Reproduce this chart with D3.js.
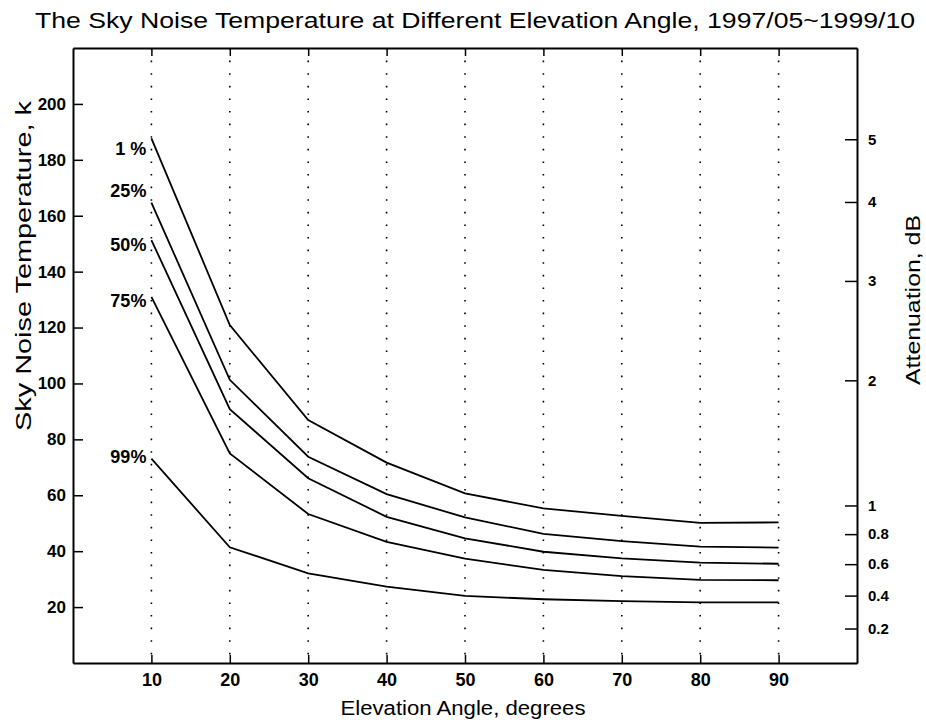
<!DOCTYPE html>
<html>
<head>
<meta charset="utf-8">
<title>Sky Noise Temperature</title>
<script src="https://cdn.jsdelivr.net/npm/d3@7"></script>
<style>
  body { margin: 0; background: #fff; }
  svg, svg text { font-family: "Liberation Sans", Arial, sans-serif; }
  svg { display: block; }
</style>
</head>
<body>
<div id="chart"></div>
<script>
// data
var elevation = [10, 20, 30, 40, 50, 60, 70, 80, 90];
var seriesNames = ["1 %", "25%", "50%", "75%", "99%"];
var temp1 = [187.7, 120.9, 86.9, 71.7, 60.7, 55.3, 52.6, 50.1, 50.3];
var temp25 = [164.7, 101.3, 73.8, 60.4, 52.1, 46.2, 43.6, 41.6, 41.3];
var temp50 = [151.3, 90.8, 66.1, 52.3, 44.6, 39.8, 37.4, 35.9, 35.5];
var temp75 = [131.0, 75.0, 53.3, 43.3, 37.3, 33.3, 31.1, 29.7, 29.6];
var temp99 = [73.1, 41.4, 32.1, 27.3, 24.0, 22.8, 22.1, 21.7, 21.7];
var tempTicks = [20, 40, 60, 80, 100, 120, 140, 160, 180, 200];
var attenTicks = [0.2, 0.4, 0.6, 0.8, 1, 2, 3, 4, 5];
var attenLabels = ["0.2", "0.4", "0.6", "0.8", "1", "2", "3", "4", "5"];
var mediumTemp = 274; // K, for attenuation -> sky noise

var series = [temp1, temp25, temp50, temp75, temp99];
var labelDy = [10, -12, 5, 4, -2];

var width = 926, height = 724;
var plotLeft = 73, plotRight = 857, plotTop = 48, plotBottom = 663;

var svg = d3.select("#chart").append("svg")
    .attr("width", width)
    .attr("height", height);

svg.append("rect").attr("width", width).attr("height", height).attr("fill", "#fff");

var x = d3.scaleLinear().domain([0, 100]).range([plotLeft, plotRight]);
var y = d3.scaleLinear().domain([0, 220]).range([plotBottom, plotTop]);

function attenToTemp(a) {
  return mediumTemp * (1 - Math.pow(10, -a / 10));
}

// dotted verticals
svg.append("g")
  .selectAll("line")
  .data(elevation)
  .enter().append("line")
    .attr("x1", function (d) { return x(d); })
    .attr("x2", function (d) { return x(d); })
    .attr("y1", plotTop)
    .attr("y2", plotBottom)
    .attr("stroke", "#000")
    .attr("stroke-width", 1.6)
    .attr("stroke-dasharray", "1.6,11");

// axes
var xAxis = svg.append("g")
    .attr("transform", "translate(0," + plotBottom + ")")
    .call(d3.axisBottom(x).tickValues(elevation).tickSizeInner(-8).tickSizeOuter(0).tickPadding(10));
xAxis.selectAll("text").attr("font-size", 18).attr("font-weight", "bold");

svg.append("g")
    .attr("transform", "translate(0," + plotTop + ")")
    .call(d3.axisTop(x).tickValues(elevation).tickSizeInner(-8).tickSizeOuter(0).tickFormat(""));

var yAxis = svg.append("g")
    .attr("transform", "translate(" + plotLeft + ",0)")
    .call(d3.axisLeft(y).tickValues(tempTicks).tickSizeInner(-10).tickSizeOuter(0).tickPadding(7));
yAxis.selectAll("text").attr("font-size", 17).attr("font-weight", "bold");

var yRight = svg.append("g")
    .attr("transform", "translate(" + plotRight + ",0)")
    .call(d3.axisRight(y)
      .tickValues(attenTicks.map(attenToTemp))
      .tickFormat(function (d, i) { return attenLabels[i]; })
      .tickSizeInner(-12).tickSizeOuter(0).tickPadding(11));
yRight.selectAll("text").attr("font-size", 15).attr("font-weight", "bold");

svg.selectAll(".domain").attr("stroke-width", 2);
svg.selectAll(".tick line").attr("stroke-width", 1.5);
svg.selectAll(".tick text").attr("fill", "#000");

// curves
var line = d3.line()
    .x(function (d, i) { return x(elevation[i]); })
    .y(function (d) { return y(d); });

svg.append("g")
  .selectAll("path")
  .data(series)
  .enter().append("path")
    .attr("d", line)
    .attr("fill", "none")
    .attr("stroke", "#000")
    .attr("stroke-width", 1.8);

svg.append("g")
  .selectAll("text")
  .data(series)
  .enter().append("text")
    .attr("x", x(elevation[0]) - 5)
    .attr("y", function (d, i) { return y(d[0]) + labelDy[i]; })
    .attr("dy", "0.35em")
    .attr("text-anchor", "end")
    .attr("font-size", 18)
    .attr("font-weight", "bold")
    .text(function (d, i) { return seriesNames[i]; });

// titles
svg.append("text")
    .attr("x", 475)
    .attr("y", 28)
    .attr("text-anchor", "middle")
    .attr("font-size", 22)
    .attr("textLength", 880)
    .attr("lengthAdjust", "spacingAndGlyphs")
    .text("The Sky Noise Temperature at Different Elevation Angle, 1997/05~1999/10");

svg.append("text")
    .attr("x", 463)
    .attr("y", 715)
    .attr("text-anchor", "middle")
    .attr("font-size", 20)
    .attr("textLength", 245)
    .attr("lengthAdjust", "spacingAndGlyphs")
    .text("Elevation Angle, degrees");

svg.append("text")
    .attr("transform", "translate(31,266) rotate(-90)")
    .attr("text-anchor", "middle")
    .attr("font-size", 22)
    .attr("textLength", 330)
    .attr("lengthAdjust", "spacingAndGlyphs")
    .text("Sky Noise Temperature, k");

svg.append("text")
    .attr("transform", "translate(920,300) rotate(-90)")
    .attr("text-anchor", "middle")
    .attr("font-size", 21)
    .attr("textLength", 170)
    .attr("lengthAdjust", "spacingAndGlyphs")
    .text("Attenuation, dB");
</script>
</body>
</html>
